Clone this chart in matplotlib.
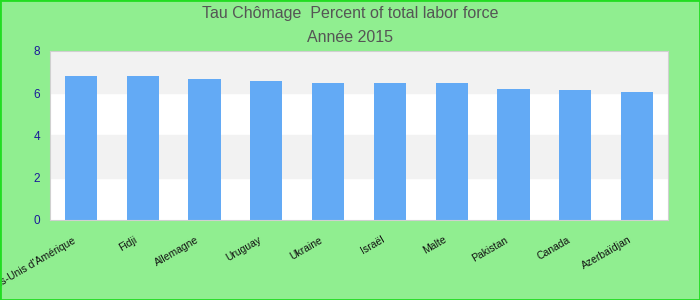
import matplotlib.pyplot as plt
import matplotlib.transforms as mtransforms
from matplotlib.patches import Rectangle

plt.rcParams['font.family'] = ['Liberation Sans', 'DejaVu Sans']

# data
pays = ["États-Unis d'Amérique", 'Fidji', 'Allemagne', 'Uruguay', 'Ukraine',
        'Israël', 'Malte', 'Pakistan', 'Canada', 'Azerbaïdjan']
chomage = [6.82, 6.82, 6.68, 6.59, 6.49, 6.49, 6.49, 6.20, 6.16, 6.07]
yticks = [0, 2, 4, 6, 8]

fig = plt.figure(figsize=(7, 3), dpi=100, facecolor='#90ee90')
fig.patches.append(Rectangle((0, 0), 1, 1, transform=fig.transFigure,
                             fill=False, edgecolor='#22dd22', linewidth=2))

ax = fig.add_axes([0.0714, 0.2667, 0.8829, 0.5633])
ax.set_facecolor('white')

# alternating bands
for lo in [2, 6]:
    ax.axhspan(lo, lo + 2, color='#f2f2f2', zorder=0)

x = list(range(len(pays)))
ax.bar(x, chomage, width=0.52, color='#63aaf5', zorder=2)

ax.set_xlim(-0.5, len(pays) - 0.5)
ax.set_ylim(0, 8)
ax.set_yticks(yticks)
ax.set_yticklabels([str(v) for v in yticks], color='#1a1a99', fontsize=8.5)
ax.tick_params(axis='y', length=0, pad=7)
ax.tick_params(axis='x', length=0, pad=0)
ax.set_xticks(x)
ax.set_xticklabels(pays, rotation=30, ha='right', va='center',
                   rotation_mode='anchor', fontsize=7.5, color='#111111')
shift = mtransforms.ScaledTranslation(-6 / 100, -19 / 100, fig.dpi_scale_trans)
for lab in ax.get_xticklabels():
    lab.set_transform(lab.get_transform() + shift)
for s in ax.spines.values():
    s.set_color('#d0d0d0')

fig.text(0.5, 0.955, 'Tau Chômage  Percent of total labor force',
         ha='center', va='center', fontsize=11.5, color='#555555')
fig.text(0.5, 0.875, 'Année 2015', ha='center', va='center',
         fontsize=11.5, color='#555555')

fig.savefig('out.png', dpi=100, facecolor=fig.get_facecolor())
